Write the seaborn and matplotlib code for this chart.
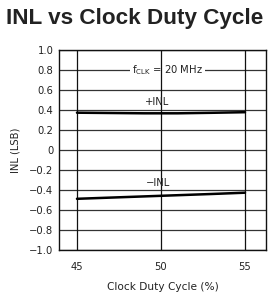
import pandas as pd
import seaborn as sns
import matplotlib.pyplot as plt

# Data
duty = [45, 47, 49, 51, 53, 55]
inl_pos = [0.373, 0.370, 0.367, 0.367, 0.372, 0.378]
inl_neg = [-0.488, -0.476, -0.464, -0.452, -0.440, -0.427]

y_ticks = [1.0, 0.8, 0.6, 0.4, 0.2, 0.0, -0.2, -0.4, -0.6, -0.8, -1.0]
y_labels = ["1.0", "0.8", "0.6", "0.4", "0.2", "0", "\u22120.2", "\u22120.4",
            "\u22120.6", "\u22120.8", "\u22121.0"]
x_ticks = [45, 50, 55]

df = pd.DataFrame({
    "duty": duty * 2,
    "inl": inl_pos + inl_neg,
    "series": ["+INL"] * len(duty) + ["-INL"] * len(duty),
})

sns.set_style("white")
plt.rcParams["font.family"] = ["DejaVu Sans"]

fig = plt.figure(figsize=(2.7, 2.98), dpi=100)
ax = fig.add_axes([59 / 270, 1 - 250 / 298, 207 / 270, 200 / 298])

sns.lineplot(data=df, x="duty", y="inl", units="series", estimator=None,
             color="black", linewidth=1.8, ax=ax, legend=False, zorder=3)

ax.set_xlim(43.93, 56.25)
ax.set_ylim(-1.0, 1.0)
ax.set_xticks(x_ticks)
ax.set_yticks(y_ticks)
ax.set_yticklabels(y_labels)
ax.tick_params(length=0, labelsize=7.2, colors="#222222")
ax.tick_params(axis="x", pad=9)
ax.tick_params(axis="y", pad=4)

for y in y_ticks:
    ax.axhline(y, color="#333333", linewidth=0.9, zorder=1)
for x in x_ticks:
    ax.axvline(x, color="#111111", linewidth=0.9, zorder=2)
for s in ax.spines.values():
    s.set_color("#111111")
    s.set_linewidth(1.0)

ax.text(50.4, 0.8, "f$_{\\mathregular{CLK}}$ = 20 MHz", ha="center", va="center",
        fontsize=7.2, color="#222222", zorder=1.5,
        bbox=dict(facecolor="white", edgecolor="none", pad=1.5))
ax.text(49.76, 0.48, "+INL", ha="center", va="center", fontsize=7.2, color="#222222")
ax.text(49.8, -0.33, "\u2212INL", ha="center", va="center", fontsize=7.2, color="#222222")

ax.set_xlabel("Clock Duty Cycle (%)", fontsize=7.6, color="#222222", labelpad=7)
ax.set_ylabel("INL (LSB)", fontsize=7.2, color="#222222", labelpad=6)

fig.text(0.5, 1 - 24 / 298, "INL vs Clock Duty Cycle", ha="center", va="baseline",
         fontsize=16.2, fontweight="bold", family="Liberation Sans", color="#222222")

fig.savefig("out.png", dpi=100)
